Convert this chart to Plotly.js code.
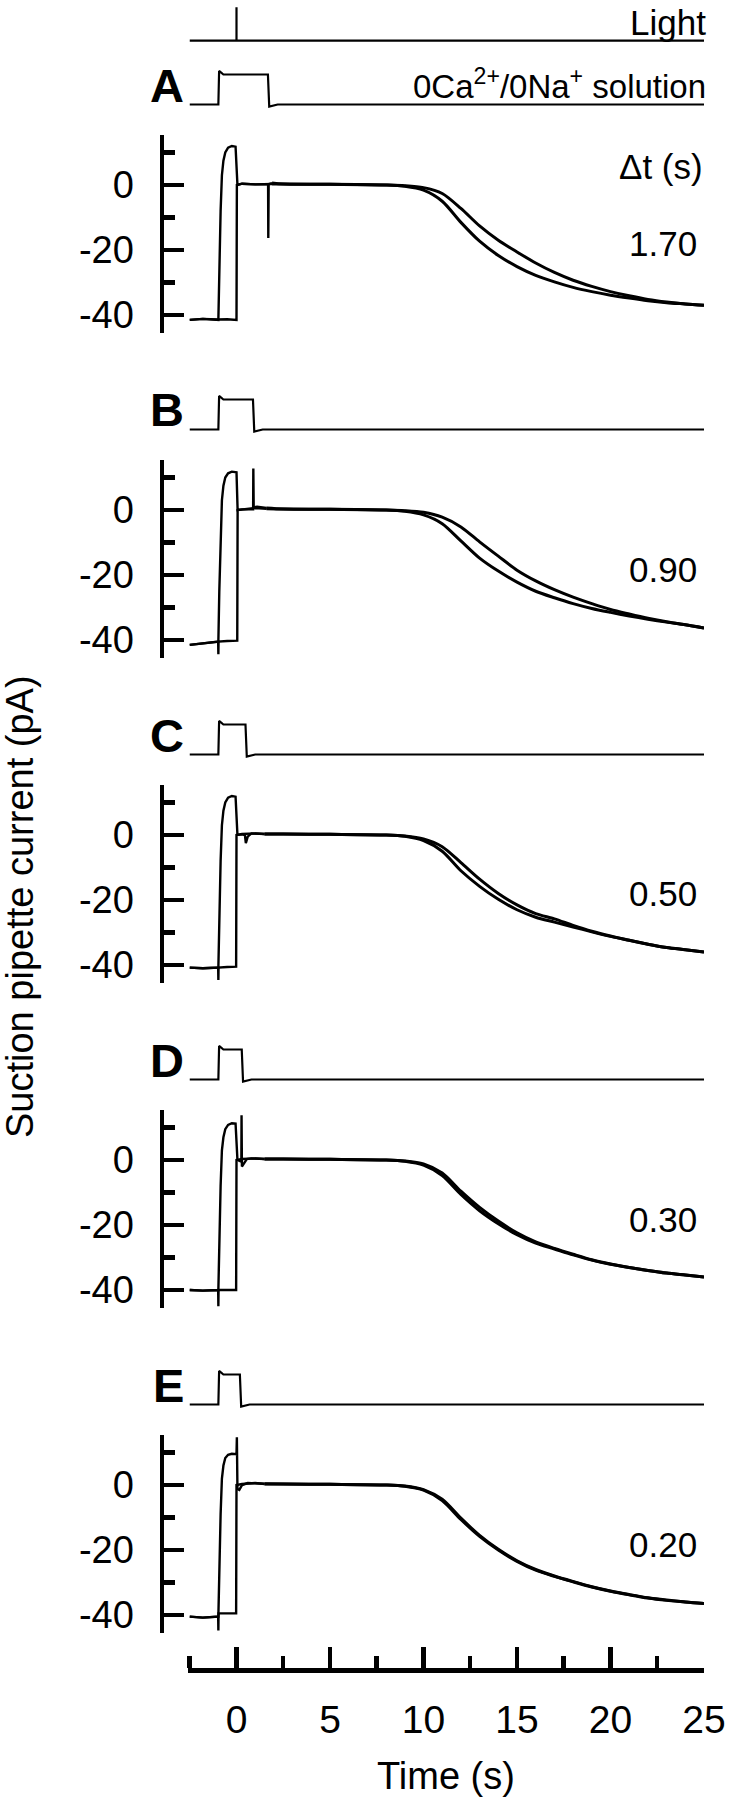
<!DOCTYPE html>
<html><head><meta charset="utf-8">
<script src="https://cdn.plot.ly/plotly-3.0.1.min.js"></script>
<style>html,body{margin:0;padding:0;background:#fff;}#chart{width:732px;height:1800px;}</style>
</head><body><div id="chart"></div>
<script>
// ---------------- DATA ----------------
const panelLetters = ['A', 'B', 'C', 'D', 'E'];
const deltaT = [1.70, 0.90, 0.50, 0.30, 0.20];
const deltaLabels = ['1.70', '0.90', '0.50', '0.30', '0.20'];

const yTickVals = [-40, -20, 0];
const yTickText = ['-40', '-20', '0'];
const yMinorVals = [-30, -10, 10];
const xTickVals = [0, 5, 10, 15, 20, 25];
const xTickText = ['0', '5', '10', '15', '20', '25'];
const xMinorVals = [-2.5, 2.5, 7.5, 12.5, 17.5, 22.5];

// Light stimulus (flash at t = 0)
const tLight = [-2.5, 0, 0, 0, 25];
const vLight = [0, 0, 1, 0, 0];

// Solution monitor (relative level): baseline, step, overshoot, return with slight undershoot
const solLevel = [0, 0, 1.12, 1.0, 1.0, -0.07, 0, 0];

// Early part of the current records (s, pA)
const tEarlyA1 = [-2.5, -1.8, -0.97, -0.92, -0.85, -0.78, -0.7, -0.6, -0.45, -0.25, -0.05, 0.05, 0.3, 1.0, 1.69, 1.70, 1.72, 1.9];
const iEarlyA1 = [-41.5, -41.2, -41.5, -25, -8, 3, 7.5, 10, 11.5, 12, 11.8, 0, 0.4, 0.2, 0.2, -16.3, 0.3, 0.6];
const tEarlyA2 = [-2.5, -1.8, -1.0, -0.5, 0.0, 0.02, 0.3, 1.0, 1.9];
const iEarlyA2 = [-41.5, -41.2, -41.4, -41.3, -41.5, 0, 0.4, 0.2, 0.3];

const tEarlyB1 = [-2.5, -1.8, -0.97, -0.92, -0.85, -0.78, -0.7, -0.6, -0.45, -0.25, -0.0, 0.06, 0.3, 0.89, 0.90, 0.92, 1.1, 1.6];
const iEarlyB1 = [-41.5, -41, -40.5, -25, -8, 3, 7.5, 10, 11.3, 11.8, 11.6, 0, 0.2, 0.2, 12.8, 0.8, 1, 0.6];
const tEarlyB2 = [-2.5, -1.8, -0.98, -0.97, -0.96, -0.5, 0.04, 0.06, 0.3, 1.0, 1.6];
const iEarlyB2 = [-41.5, -41, -40.5, -44.4, -40.5, -40.3, -40.2, 0, 0.2, 0.6, 0.4];

const tEarlyC1 = [-2.5, -1.8, -0.97, -0.92, -0.85, -0.78, -0.7, -0.6, -0.45, -0.25, -0.05, 0.05, 0.3, 0.45, 0.5, 0.6, 0.8, 1.5];
const iEarlyC1 = [-40.8, -41, -40.8, -25, -8, 3, 7.5, 10, 11.5, 12, 11.8, 0, 0.2, 0, -2.5, -0.5, 0.5, 0.3];
const tEarlyC2 = [-2.5, -1.8, -0.98, -0.97, -0.96, -0.5, -0.02, 0.0, 0.3, 1.0, 1.5];
const iEarlyC2 = [-40.8, -41, -40.8, -44.6, -40.8, -40.6, -40.5, 0, 0.3, 0.5, 0.3];

const tEarlyD1 = [-2.5, -1.8, -0.97, -0.92, -0.85, -0.78, -0.7, -0.6, -0.45, -0.25, -0.05, 0.05, 0.2, 0.26, 0.27, 0.29, 0.35, 0.55, 0.8, 1.5];
const iEarlyD1 = [-40, -40.2, -40, -25, -8, 3, 7, 9.5, 10.8, 11.3, 11.2, 0, -0.5, -0.5, 13.8, -2, -1.5, 0.3, 0.5, 0.3];
const tEarlyD2 = [-2.5, -1.8, -0.98, -0.97, -0.96, -0.5, -0.02, 0.0, 0.3, 1.0, 1.5];
const iEarlyD2 = [-40, -40.2, -40, -45, -40, -40, -40, 0, 0.3, 0.5, 0.3];

const tEarlyE1 = [-2.5, -1.8, -0.97, -0.92, -0.85, -0.78, -0.7, -0.6, -0.45, -0.25, -0.05, 0.0, 0.02, 0.05, 0.15, 0.3, 0.6, 1.5];
const iEarlyE1 = [-40.5, -40.8, -40.5, -25, -9, 2, 6, 8.3, 9.3, 9.6, 9.5, 9.5, 14.7, -1.2, -1.5, 0, 0.6, 0.4];
const tEarlyE2 = [-2.5, -1.8, -0.98, -0.97, -0.96, -0.5, -0.02, 0.0, 0.3, 1.0, 1.5];
const iEarlyE2 = [-40.5, -40.8, -40.5, -44.8, -39.5, -39.5, -39.5, 0, 0.3, 0.6, 0.3];

// Late part: recovery of the dark current (s, pA)
const tDecay = [2.5, 5, 8, 9, 10, 11, 12, 13, 14, 15, 16, 17, 18, 19, 20, 21, 22, 23, 24, 25];
const decayA1 = [0.3, 0.2, 0, -0.4, -1.6, -5, -11.5, -17.3, -21.7, -25.1, -27.8, -29.8, -31.5, -32.8, -33.9, -34.8, -35.6, -36.2, -36.6, -37];
const decayA2 = [0.3, 0.2, 0, -0.2, -0.8, -2.6, -7.2, -12.6, -17, -20.6, -24, -26.9, -29.3, -31.2, -32.8, -34.1, -35.2, -36, -36.6, -37];
const decayB1 = [0.3, 0.2, 0, -0.4, -1.5, -4.2, -9.5, -14.8, -18.8, -22.2, -25, -27, -28.8, -30.3, -31.5, -32.6, -33.6, -34.5, -35.3, -36.3];
const decayB2 = [0.3, 0.2, 0, -0.2, -0.7, -2.2, -5.2, -9.8, -14.2, -18.5, -21.8, -24.5, -26.8, -28.8, -30.6, -32, -33.3, -34.4, -35.3, -36.3];
const decayC1 = [0.3, 0.2, 0, -0.4, -1.7, -5, -11, -15.8, -19.8, -23, -25.3, -26.8, -28.3, -29.8, -31.2, -32.4, -33.6, -34.6, -35.3, -36];
const decayC2 = [0.3, 0.2, 0, -0.3, -1.2, -3.6, -8.5, -13.6, -18, -21.5, -24.2, -25.8, -27.8, -29.6, -31.1, -32.4, -33.6, -34.6, -35.3, -36];
const decayD1 = [0.3, 0.2, 0, -0.4, -1.6, -4.8, -10.6, -15.6, -19.6, -23, -25.6, -27.4, -29.2, -30.8, -32.1, -33.1, -34, -34.8, -35.4, -36];
const decayD2 = [0.3, 0.2, 0, -0.3, -1.2, -4, -9.6, -14.6, -18.8, -22.4, -25.2, -27.2, -29, -30.7, -32, -33.1, -34, -34.8, -35.4, -36];
const decayE1 = [0.3, 0.2, 0, -0.4, -1.6, -4.8, -10.6, -15.8, -20, -23.5, -26.2, -28.1, -29.8, -31.4, -32.7, -33.8, -34.8, -35.5, -36, -36.5];
const decayE2 = [0.3, 0.2, 0, -0.3, -1.4, -4.4, -10.2, -15.5, -19.8, -23.3, -26, -28, -29.7, -31.3, -32.6, -33.7, -34.7, -35.4, -36, -36.5];

// ---------------- LAYOUT GEOMETRY ----------------
const W = 732, H = 1800;
const X0 = 236.5, PXS = 18.7;          // pixel of t = 0, pixels per second
const XL = 164, XR = 704;              // plot area left/right (px)
const ZERO_PX = [185, 510, 835, 1160, 1485];
const PX_PER_PA = 3.25;
const Y_TOP = 15.4, Y_BOT = -45.5;
const FONT = 'Liberation Sans, Arial, Helvetica, sans-serif';
const fx = px => px / W;
const fy = py => 1 - py / H;
const tAt = px => (px - X0) / PXS;

const earlyT1 = [tEarlyA1, tEarlyB1, tEarlyC1, tEarlyD1, tEarlyE1];
const earlyI1 = [iEarlyA1, iEarlyB1, iEarlyC1, iEarlyD1, iEarlyE1];
const earlyT2 = [tEarlyA2, tEarlyB2, tEarlyC2, tEarlyD2, tEarlyE2];
const earlyI2 = [iEarlyA2, iEarlyB2, iEarlyC2, iEarlyD2, iEarlyE2];
const decay1 = [decayA1, decayB1, decayC1, decayD1, decayE1];
const decay2 = [decayA2, decayB2, decayC2, decayD2, decayE2];

const traces = [];
const layout = {
  width: W, height: H, autosize: false,
  margin: {l: 0, r: 0, t: 0, b: 0, pad: 0},
  paper_bgcolor: '#fff', plot_bgcolor: 'rgba(0,0,0,0)',
  showlegend: false,
  font: {family: FONT, color: '#000', size: 34},
  xaxis: {domain: [fx(XL), fx(XR)], range: [tAt(XL), tAt(XR)], visible: false, fixedrange: true},
  annotations: []
};

const curLine = {color: '#000', width: 3};
const sigLine = {color: '#000', width: 2.2};

for (let k = 0; k < 5; k++) {
  const z = ZERO_PX[k];
  const cy = k === 0 ? 'y' : 'y' + (k + 1);
  const sy = 'y' + (k + 6);
  // current axis
  layout[k === 0 ? 'yaxis' : 'yaxis' + (k + 1)] = {
    domain: [fy(z - Y_BOT * PX_PER_PA), fy(z - Y_TOP * PX_PER_PA)],
    range: [Y_BOT, Y_TOP], anchor: 'x',
    showline: true, linewidth: 4.5, linecolor: '#000', mirror: false,
    showgrid: false, zeroline: false,
    ticks: 'inside', tickvals: yTickVals, ticktext: yTickText,
    ticklen: 20, tickwidth: 4.5, tickcolor: '#000',
    minor: {tickvals: yMinorVals, ticks: 'inside', ticklen: 11, tickwidth: 4.5, tickcolor: '#000', showgrid: false},
    tickfont: {family: FONT, size: 38, color: '#000'},
    ticklabelstandoff: 18, fixedrange: true
  };
  // solution axis
  const base = z - 80.5;
  layout['yaxis' + (k + 6)] = {
    domain: [fy(base + 15), fy(base - 45)], range: [-0.5, 1.5],
    anchor: 'x', visible: false, fixedrange: true
  };
  // current traces: early (linear) + decay (smoothed)
  [[earlyT1[k], earlyI1[k], decay1[k]], [earlyT2[k], earlyI2[k], decay2[k]]].forEach(([te, ie, dec]) => {
    traces.push({x: te, y: ie, xaxis: 'x', yaxis: cy, mode: 'lines', line: Object.assign({}, curLine, {width: 2.4}), hoverinfo: 'skip'});
    traces.push({x: [te[te.length - 1]].concat(tDecay), y: [ie[ie.length - 1]].concat(dec),
      xaxis: 'x', yaxis: cy, mode: 'lines', line: Object.assign({shape: 'spline', smoothing: 0.8}, curLine), hoverinfo: 'skip'});
  });
  // solution monitor trace
  const d = deltaT[k];
  const tSol = [-2.5, -0.97, -0.93, -0.7, d - 0.02, d + 0.05, d + 0.5, 25];
  traces.push({x: tSol, y: solLevel, xaxis: 'x', yaxis: sy, mode: 'lines', line: sigLine, hoverinfo: 'skip'});

  // panel letter
  layout.annotations.push({text: panelLetters[k], xref: 'paper', yref: 'paper',
    x: fx(186), y: fy(z - 100), xanchor: 'right', yanchor: 'middle', showarrow: false,
    font: {family: FONT, size: 47, color: '#000', weight: 'bold'}});
  // delta t value
  layout.annotations.push({text: deltaLabels[k], xref: 'paper', yref: 'paper',
    x: fx(699), y: fy(z + 59), xanchor: 'right', yanchor: 'middle', showarrow: false,
    font: {family: FONT, size: 35, color: '#000'}});
}

// light axis + trace
layout.yaxis11 = {domain: [fy(60), fy(0)], range: [-(60 - 40.7) / 33.4, 40.7 / 33.4], anchor: 'x', visible: false, fixedrange: true};
traces.push({x: tLight, y: vLight, xaxis: 'x', yaxis: 'y11', mode: 'lines', line: sigLine, hoverinfo: 'skip'});

// bottom time axis
const XL2 = X0 - 2.62 * PXS;
layout.xaxis2 = {domain: [fx(XL2), fx(XR)], range: [tAt(XL2), tAt(XR)], anchor: 'y12',
  showline: true, linewidth: 5, linecolor: '#000', showgrid: false, zeroline: false,
  ticks: 'inside', tickvals: xTickVals, ticktext: xTickText, ticklen: 21, tickwidth: 4.5, tickcolor: '#000',
  minor: {tickvals: xMinorVals, ticks: 'inside', ticklen: 12, tickwidth: 4.5, tickcolor: '#000', showgrid: false},
  tickfont: {family: FONT, size: 39, color: '#000'}, ticklabelstandoff: 13, fixedrange: true};
layout.yaxis12 = {domain: [fy(1668), fy(1640)], range: [0, 1], anchor: 'x2', visible: false, fixedrange: true};
traces.push({x: [], y: [], xaxis: 'x2', yaxis: 'y12', mode: 'lines', hoverinfo: 'skip'});

// texts
layout.annotations.push({text: 'Light', xref: 'paper', yref: 'paper', x: fx(708), y: fy(1),
  xanchor: 'right', yanchor: 'top', showarrow: false, font: {family: FONT, size: 35}});
layout.annotations.push({text: '0Ca<sup>2+</sup>/0Na<sup>+</sup> solution', xref: 'paper', yref: 'paper', x: fx(708), y: fy(84),
  xanchor: 'right', yanchor: 'middle', showarrow: false, font: {family: FONT, size: 33}});
layout.annotations.push({text: 'Δt (s)', xref: 'paper', yref: 'paper', x: fx(705), y: fy(167),
  xanchor: 'right', yanchor: 'middle', showarrow: false, font: {family: FONT, size: 35}});
layout.annotations.push({text: 'Time (s)', xref: 'paper', yref: 'paper', x: fx(446), y: fy(1776),
  xanchor: 'center', yanchor: 'middle', showarrow: false, font: {family: FONT, size: 38}});
layout.annotations.push({text: 'Suction pipette current (pA)', xref: 'paper', yref: 'paper', x: fx(20), y: fy(907),
  xanchor: 'center', yanchor: 'middle', textangle: -90, showarrow: false, font: {family: FONT, size: 38}});

Plotly.newPlot('chart', traces, layout, {staticPlot: true, displayModeBar: false});
</script>
</body></html>
